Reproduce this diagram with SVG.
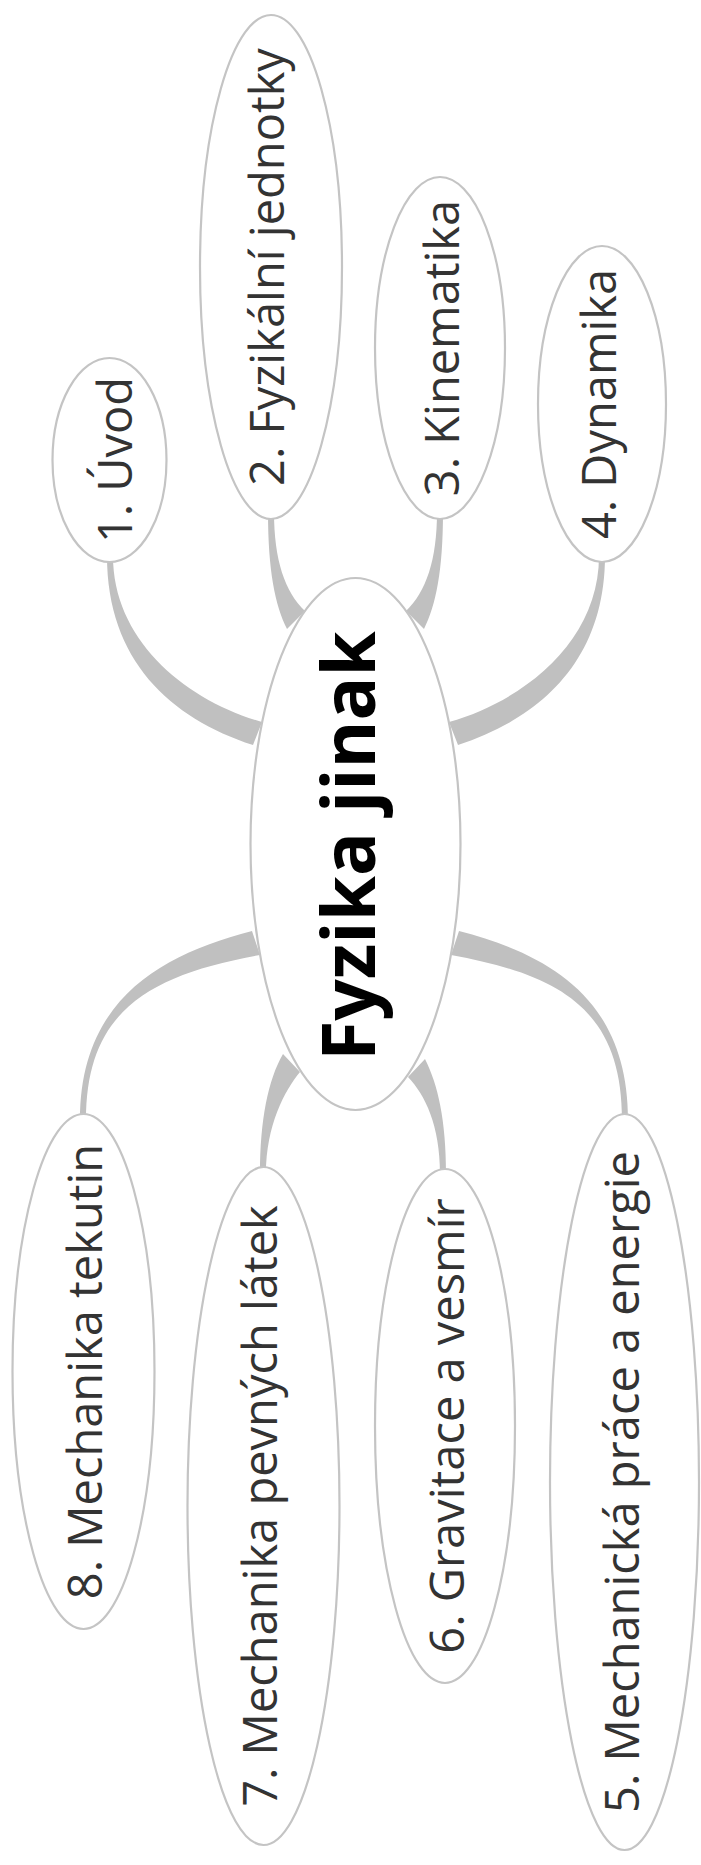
<svg xmlns="http://www.w3.org/2000/svg" width="701" height="1865" viewBox="0 0 701 1865">
<style>
.bg{fill:#ffffff}
.conn{fill:#c0c0c0;stroke:none}
.node{fill:#ffffff;stroke:#c4c4c4;stroke-width:2.2}
.lbl{font-family:"Open Sans","Noto Sans","Liberation Sans",sans-serif;font-size:47px;fill:#333333;text-anchor:middle}
.main{font-family:"Open Sans","Noto Sans","Liberation Sans",sans-serif;font-size:73px;font-weight:700;fill:#000000;text-anchor:middle}
</style>
<rect class="bg" x="0" y="0" width="701" height="1865"/>
<g id="connectors">
<path class="conn" d="M107,556 C107,660 170,718 253,745 L262,722 C185,700 113,640 113,556 Z"/>
<path class="conn" d="M268,512 C268,570 275,605 287,629 L305,611 C285,592 274,560 274,512 Z"/>
<path class="conn" d="M443,512 C443,570 436,605 424,629 L406,611 C426,592 437,560 437,512 Z"/>
<path class="conn" d="M605,556 C605,660 541,718 458,745 L449,722 C526,700 599,640 599,556 Z"/>
<path class="conn" d="M80,1120 C80,1000 160,955 252,931 L260,955 C150,975 86,1010 86,1120 Z"/>
<path class="conn" d="M260,1174 C260,1120 268,1080 283,1054 L300,1072 C285,1090 266,1125 266,1174 Z"/>
<path class="conn" d="M446,1174 C446,1120 438,1085 425,1059 L408,1077 C425,1095 440,1125 440,1174 Z"/>
<path class="conn" d="M628,1120 C628,1000 551,955 459,931 L451,955 C561,975 622,1010 622,1120 Z"/>
</g>
<g id="center">
<ellipse class="node" cx="355.5" cy="844" rx="105" ry="266"/>
<text class="main" transform="translate(375,846) rotate(-90)">Fyzika jinak</text>
</g>
<g id="n1">
<ellipse class="node" cx="109.5" cy="460" rx="57" ry="102"/>
<text class="lbl" transform="translate(131.5,460) rotate(-90)">1. Úvod</text>
</g>
<g id="n2">
<ellipse class="node" cx="271" cy="267" rx="71" ry="252"/>
<text class="lbl" transform="translate(283.5,267) rotate(-90)">2. Fyzikální jednotky</text>
</g>
<g id="n3">
<ellipse class="node" cx="440" cy="348" rx="65" ry="171"/>
<text class="lbl" transform="translate(458.5,348) rotate(-90)">3. Kinematika</text>
</g>
<g id="n4">
<ellipse class="node" cx="602" cy="404" rx="64" ry="158"/>
<text class="lbl" transform="translate(616,404) rotate(-90)">4. Dynamika</text>
</g>
<g id="n5">
<ellipse class="node" cx="624.5" cy="1482" rx="74.5" ry="368"/>
<text class="lbl" transform="translate(639,1482) rotate(-90)">5. Mechanická práce a energie</text>
</g>
<g id="n6">
<ellipse class="node" cx="445" cy="1426" rx="70" ry="257"/>
<text class="lbl" transform="translate(464,1426) rotate(-90)">6. Gravitace a vesmír</text>
</g>
<g id="n7">
<ellipse class="node" cx="263.5" cy="1506" rx="76" ry="339"/>
<text class="lbl" transform="translate(277,1506) rotate(-90)">7. Mechanika pevných látek</text>
</g>
<g id="n8">
<ellipse class="node" cx="83.5" cy="1371.5" rx="71" ry="257.5"/>
<text class="lbl" transform="translate(101.5,1371.5) rotate(-90)">8. Mechanika tekutin</text>
</g>
</svg>
